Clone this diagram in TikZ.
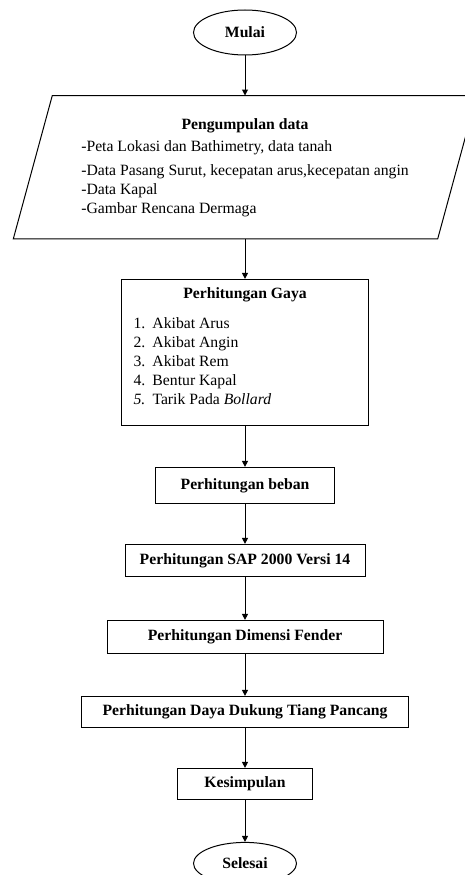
\documentclass[tikz,border=0pt]{standalone}
\usepackage{fontspec}
\setmainfont{Liberation Serif}
\usetikzlibrary{shapes.geometric, arrows.meta, positioning}

\begin{document}
\begin{tikzpicture}[
    node distance=40pt,
    font=\fontsize{15.7}{19}\selectfont,
    terminal/.style={draw, ellipse, line width=1pt, minimum width=103pt, minimum height=45pt, inner sep=0pt, font=\fontsize{15.7}{19}\selectfont\bfseries},
    procbox/.style={draw, rectangle, line width=1pt, inner sep=0pt, font=\fontsize{15.7}{19}\selectfont\bfseries},
    flow/.style={-{Triangle[length=6pt, width=6pt]}, line width=1pt},
]
\useasboundingbox (0,0) rectangle (465pt,-875pt);
\node[terminal] (mulai) at (245pt,-32.5pt) {Mulai};
\node[rectangle, inner sep=0pt, minimum width=424pt, minimum height=143pt, below=40pt of mulai] (data) {\begin{tabular}{@{}l@{}}
\multicolumn{1}{@{}c@{}}{\textbf{Pengumpulan data}}\\[3pt]
-Peta Lokasi dan Bathimetry, data tanah\\[5pt]
-Data Pasang Surut, kecepatan arus,kecepatan angin\\
-Data Kapal\\
-Gambar Rencana Dermaga
\end{tabular}};
% parallelogram round the data node
\draw[line width=1pt] ([xshift=-19.5pt]data.south west) -- ([xshift=19.5pt]data.north west)
  -- ([xshift=19.5pt]data.north east) -- ([xshift=-19.5pt]data.south east) -- cycle;
\node[draw, rectangle, line width=1pt, inner sep=0pt, minimum width=247pt, minimum height=146pt, below=40pt of data] (gaya) {\begin{tabular}{@{}l@{}}
\makebox[223pt]{\textbf{Perhitungan Gaya}}\\[11pt]
\makebox[19pt][l]{1.}Akibat Arus\\
\makebox[19pt][l]{2.}Akibat Angin\\
\makebox[19pt][l]{3.}Akibat Rem\\
\makebox[19pt][l]{4.}Bentur Kapal\\
\makebox[19pt][l]{\textit{5.}}Tarik Pada \textit{Bollard}\\[10pt]
\end{tabular}};
\node[procbox, minimum width=179pt, minimum height=36pt, below=41pt of gaya] (beban) {Perhitungan beban};
\node[procbox, minimum width=240pt, minimum height=32pt, below=40pt of beban] (sap) {Perhitungan SAP 2000 Versi 14};
\node[procbox, minimum width=276pt, minimum height=33pt, below=43pt of sap] (fender) {Perhitungan Dimensi Fender};
\node[procbox, minimum width=327pt, minimum height=31pt, below=42pt of fender] (tiang) {Perhitungan Daya Dukung Tiang Pancang};
\node[procbox, minimum width=135pt, minimum height=31pt, below=40pt of tiang] (simpul) {Kesimpulan};
\node[terminal, minimum height=42pt, below=42pt of simpul] (selesai) {Selesai};
\draw[flow] (mulai) -- (data);
\draw[flow] (data) -- (gaya);
\draw[flow] (gaya) -- (beban);
\draw[flow] (beban) -- (sap);
\draw[flow] (sap) -- (fender);
\draw[flow] (fender) -- (tiang);
\draw[flow] (tiang) -- (simpul);
\draw[flow] (simpul) -- (selesai);
\end{tikzpicture}
\end{document}
